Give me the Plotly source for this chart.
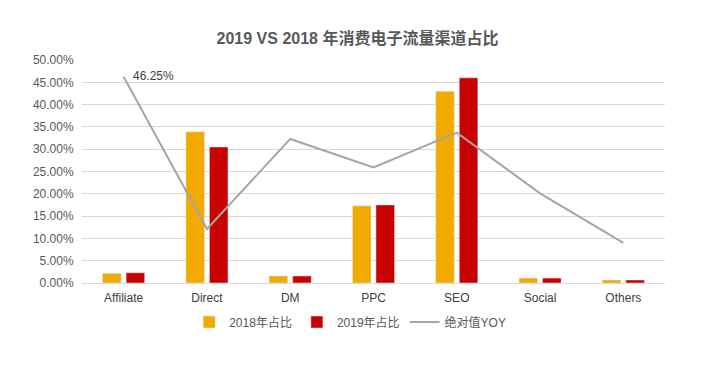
import plotly.graph_objects as go

categories = ["Affiliate", "Direct", "DM", "PPC", "SEO", "Social", "Others"]
share_2018 = [0.0217, 0.339, 0.0157, 0.173, 0.430, 0.011, 0.0067]
share_2019 = [0.023, 0.305, 0.0157, 0.175, 0.460, 0.011, 0.0067]
yoy_abs = [0.4625, 0.121, 0.323, 0.259, 0.337, 0.201, 0.090]

font_family = "Liberation Sans, Arial, Noto Sans CJK SC, sans-serif"

fig = go.Figure()
fig.add_trace(go.Bar(x=categories, y=share_2018, name="2018年占比", marker_color="#F2A900"))
fig.add_trace(go.Bar(x=categories, y=share_2019, name="2019年占比", marker_color="#C80000"))
fig.add_trace(go.Scatter(x=categories, y=yoy_abs, name="绝对值YOY", mode="lines",
                         line=dict(color="#A5A5A5", width=2)))

fig.add_annotation(x=categories[0], y=yoy_abs[0], text=f"{yoy_abs[0]*100:.2f}%",
                   showarrow=False, xanchor="left", yanchor="middle", xshift=7, yshift=1,
                   font=dict(size=12, color="#404040", family=font_family))

fig.update_layout(
    width=701, height=368,
    margin=dict(l=82, r=36, t=60, b=85, autoexpand=False),
    paper_bgcolor="white", plot_bgcolor="white",
    title=dict(text="<b>2019 VS 2018 年消费电子流量渠道占比</b>", x=0.51, xanchor="center",
               y=0.895, yanchor="middle",
               font=dict(size=16, color="#595959", family=font_family)),
    barmode="group", bargap=0.435, bargroupgap=0.21,
    font=dict(family=font_family, size=12, color="#595959"),
    legend=dict(orientation="h", x=0.46, xanchor="center", y=-0.11, yanchor="top",
                font=dict(size=12, color="#595959"), itemwidth=30, traceorder="normal"),
    showlegend=True,
)
fig.update_yaxes(range=[0, 0.5], dtick=0.05, tickformat=".2%", showgrid=True,
                 gridcolor="#D9D9D9", gridwidth=1, zeroline=False, showline=False,
                 ticks="outside", ticklen=5, tickcolor="rgba(0,0,0,0)",
                 tickfont=dict(size=12, color="#595959"))
fig.update_xaxes(showline=True, linecolor="#D9D9D9", linewidth=1,
                 ticks="outside", ticklen=4, tickcolor="rgba(0,0,0,0)",
                 tickfont=dict(size=12, color="#404040"))

fig.write_html("out.html", post_script="document.body.style.margin='0';",
               config={"displayModeBar": False})
